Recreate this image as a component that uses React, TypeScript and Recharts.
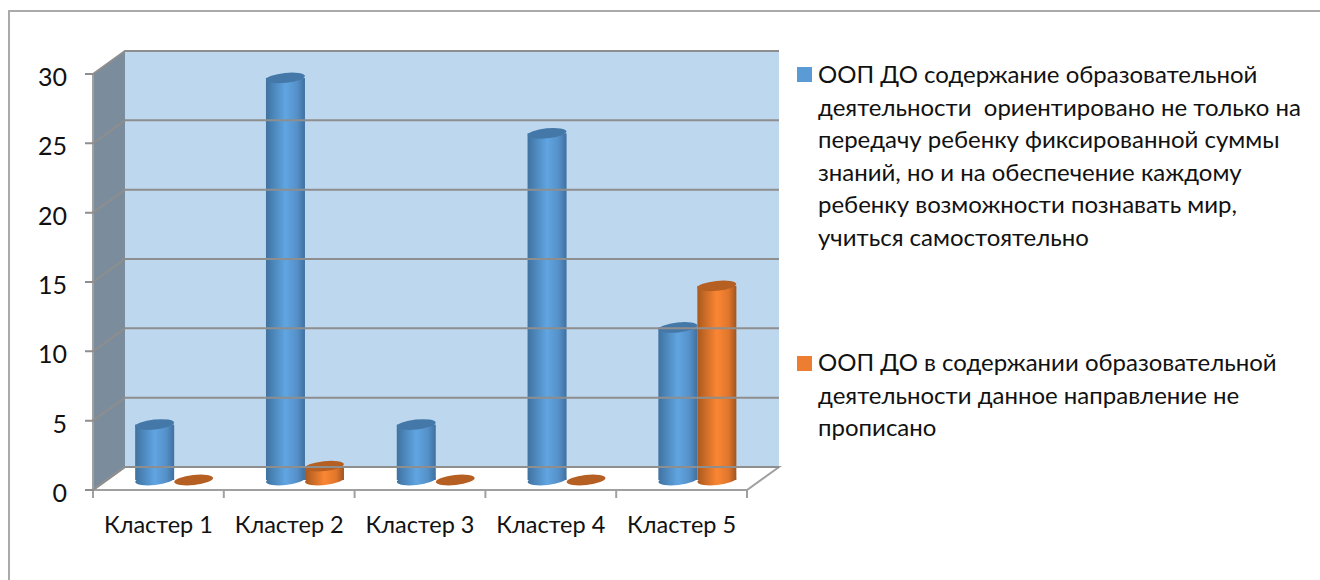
import { BarChart, Bar, XAxis, YAxis, ReferenceArea, ReferenceLine } from 'recharts';

const categories = ['Кластер 1', 'Кластер 2', 'Кластер 3', 'Кластер 4', 'Кластер 5'];
const presentValues = [4, 29, 4, 25, 11];
const absentValues = [0, 1, 0, 0, 14];
const yTicks = [0, 5, 10, 15, 20, 25, 30];

const presentLines = [
  'ООП ДО содержание образовательной',
  'деятельности  ориентировано не только на',
  'передачу ребенку фиксированной суммы',
  'знаний, но и на обеспечение каждому',
  'ребенку возможности познавать мир,',
  'учиться самостоятельно',
];
const absentLines = [
  'ООП ДО в содержании образовательной',
  'деятельности данное направление не',
  'прописано',
];

const data = categories.map((name, i) => ({
  name,
  present: presentValues[i],
  absent: absentValues[i],
}));

const FONT = 'Lato, "Open Sans", sans-serif';
// depth of the fake 3d box
const DX = 32;
const DY = -23;
// bars stand in the middle of the floor
const BAR_DX = 16;
const BAR_DY = -10;

const Box = ({ x, y, width, height }: any) => {
  const bottom = y + height;
  const step = width / categories.length;
  return (
    <g>
      <polygon
        points={`${x + DX},${y + DY} ${x + width + DX},${y + DY} ${x + width + DX},${bottom + DY} ${x + DX},${bottom + DY}`}
        fill="#bdd7ee"
      />
      <polygon
        points={`${x},${y} ${x + DX},${y + DY} ${x + DX},${bottom + DY} ${x},${bottom}`}
        fill="#7b8c9c"
      />
      <polygon
        points={`${x},${bottom} ${x + DX},${bottom + DY} ${x + width + DX},${bottom + DY} ${x + width},${bottom}`}
        fill="#ffffff"
        stroke="#a0a0a0"
        strokeWidth={2}
      />
      <line x1={x} y1={y} x2={x} y2={bottom} stroke="#a0a0a0" strokeWidth={2} />
      {[0, ...categories.map((_, i) => i + 1)].map((i) => (
        <line key={i} x1={x + i * step} y1={bottom} x2={x + i * step} y2={bottom + 8} stroke="#a0a0a0" strokeWidth={2} />
      ))}
    </g>
  );
};

const GridLine = ({ x1, y1, x2 }: any) => (
  <g stroke="#8e8e8e" strokeWidth={2} fill="none">
    <polyline points={`${x1 - 8},${y1} ${x1},${y1} ${x1 + DX},${y1 + DY} ${x2 + DX},${y1 + DY}`} />
  </g>
);

const Cylinder = ({ x, y, width, height, side, top, value }: any) => {
  const left = x + BAR_DX;
  const cx = left + width / 2;
  const yTop = y + BAR_DY;
  const yBottom = y + height + BAR_DY;
  const rx = width / 2;
  const ry = 5;
  const tilt = (cy: number) => `rotate(-6 ${cx} ${cy})`;
  return (
    <g>
      {value > 0 && (
        <>
          <ellipse cx={cx} cy={yBottom} rx={rx} ry={ry} fill={`url(#${side})`} transform={tilt(yBottom)} />
          <rect x={left} y={yTop} width={width} height={yBottom - yTop} fill={`url(#${side})`} />
        </>
      )}
      <ellipse cx={cx} cy={yTop} rx={rx} ry={ry} fill={top} transform={tilt(yTop)} />
    </g>
  );
};

const LegendBlock = () => (
  <div style={{ fontFamily: FONT, fontSize: 24, lineHeight: '32.6px', color: '#111', whiteSpace: 'pre' }}>
    <div style={{ position: 'absolute', left: 0, top: 0 }}>
      <span style={{ position: 'absolute', left: -21, top: 9, width: 15, height: 15, background: '#5b9bd5' }} />
      {presentLines.map((l) => <div key={l}>{l}</div>)}
    </div>
    <div style={{ position: 'absolute', left: 0, top: 288 }}>
      <span style={{ position: 'absolute', left: -21, top: 10, width: 15, height: 15, background: '#ed7d31' }} />
      {absentLines.map((l) => <div key={l}>{l}</div>)}
    </div>
  </div>
);

export default function App() {
  return (
    <div style={{ position: 'absolute', left: 0, top: 0, width: 1320, height: 580, background: '#fff', overflow: 'hidden' }}>
      <div style={{ position: 'absolute', left: 8, top: 10, width: 1320, height: 600, border: '2px solid #aaa' }} />
      <BarChart
        width={1320}
        height={580}
        data={data}
        barCategoryGap="20%"
        barGap={0}
        margin={{ top: 74, right: 573, bottom: 60, left: 33 }}
        style={{ position: 'absolute', left: 0, top: 0 }}
      >
        <defs>
          <linearGradient id="sidePresent" x1="0" x2="1" y1="0" y2="0">
            <stop offset="0" stopColor="#3f72a0" />
            <stop offset="0.5" stopColor="#60a5e2" />
            <stop offset="0.8" stopColor="#5590c8" />
            <stop offset="1" stopColor="#3f70a0" />
          </linearGradient>
          <linearGradient id="sideAbsent" x1="0" x2="1" y1="0" y2="0">
            <stop offset="0" stopColor="#a9591f" />
            <stop offset="0.5" stopColor="#fb8633" />
            <stop offset="0.8" stopColor="#e0762c" />
            <stop offset="1" stopColor="#a05520" />
          </linearGradient>
        </defs>
        <XAxis
          dataKey="name"
          axisLine={false}
          tickLine={false}
          interval={0}
          tick={{ fill: '#111', fontSize: 23.5, fontFamily: FONT, dy: 1 }}
          tickMargin={19}
          scale="band"
        />
        <YAxis
          domain={[0, 30]}
          ticks={yTicks}
          axisLine={false}
          tickLine={false}
          tick={{ fill: '#111', fontSize: 25, fontFamily: FONT, dy: 3 }}
          tickMargin={20}
          width={60}
        />
        <ReferenceArea y1={0} y2={30} shape={<Box />} ifOverflow="visible" />
        {yTicks.map((t) => (
          <ReferenceLine key={t} y={t} shape={<GridLine />} ifOverflow="visible" />
        ))}
        <Bar
          dataKey="present"
          isAnimationActive={false}
          fill="#5b9bd5"
          shape={(p: any) => <Cylinder {...p} side="sidePresent" top="#4478a8" />}
        />
        <Bar
          dataKey="absent"
          isAnimationActive={false}
          fill="#ed7d31"
          shape={(p: any) => <Cylinder {...p} side="sideAbsent" top="#b65f22" />}
        />
      </BarChart>
      <div style={{ position: 'absolute', left: 818, top: 58 }}>
        <LegendBlock />
      </div>
    </div>
  );
}
